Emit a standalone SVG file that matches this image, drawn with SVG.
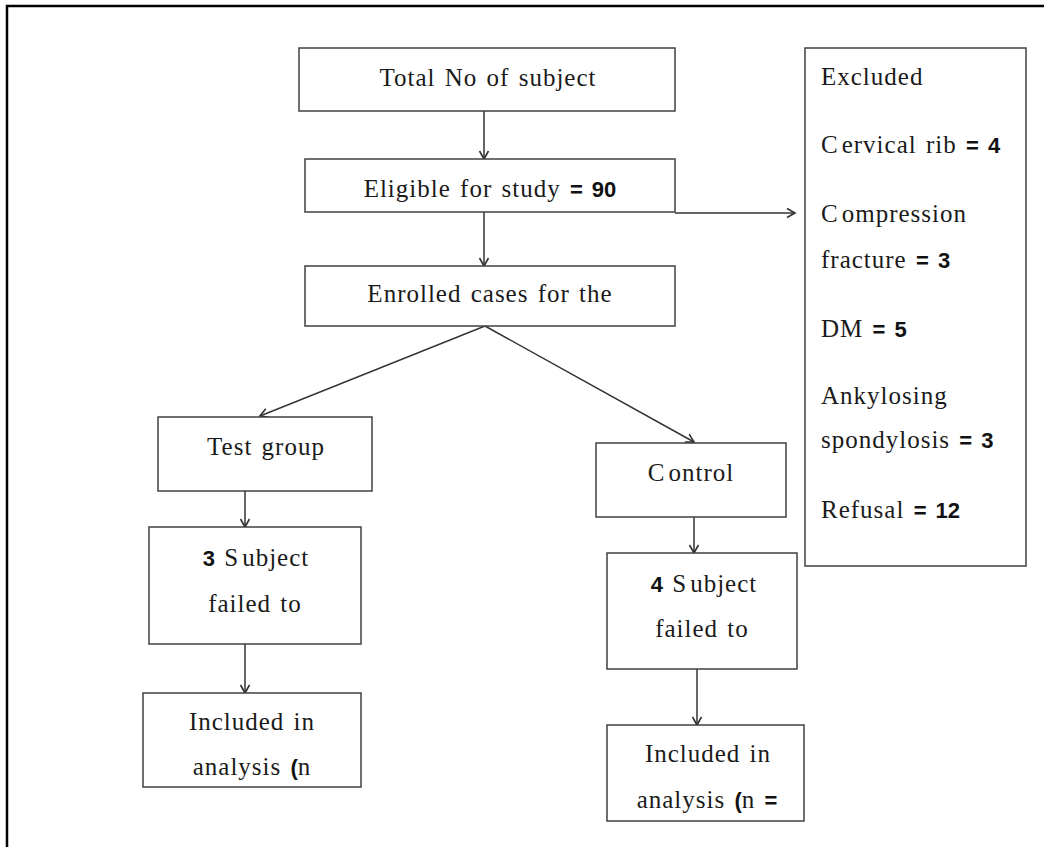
<svg xmlns="http://www.w3.org/2000/svg" width="1044" height="847" viewBox="0 0 1044 847">
<defs>
<style>
.box{fill:#fff;stroke:#404040;stroke-width:1.5}
.t{font-family:"Liberation Serif","Times New Roman",serif;font-size:25px;letter-spacing:1px;word-spacing:2px;fill:#1a1a1a}
.c{text-anchor:middle}
.b{font-family:"Liberation Sans",Arial,sans-serif;font-weight:bold;font-size:22px;letter-spacing:0;word-spacing:3px;fill:#111}
.ln{fill:none;stroke:#333;stroke-width:1.5}
</style>
<marker id="ah" markerUnits="userSpaceOnUse" markerWidth="12" markerHeight="12" refX="9" refY="5" orient="auto" viewBox="0 0 12 10">
<path d="M1,0.5 L9,5 L1,9.5" fill="none" stroke="#333" stroke-width="1.6"/>
</marker>
</defs>
<rect width="1044" height="847" fill="#fff"/>
<path d="M7,847 V6 H1044" fill="none" stroke="#000" stroke-width="2.5"/>

<g id="connectors">
<line class="ln" x1="484" y1="111" x2="484" y2="159" marker-end="url(#ah)"/>
<line class="ln" x1="484" y1="212" x2="484" y2="266" marker-end="url(#ah)"/>
<line class="ln" x1="675" y1="213" x2="795" y2="213" marker-end="url(#ah)"/>
<line class="ln" x1="485" y1="326" x2="260" y2="416" marker-end="url(#ah)"/>
<line class="ln" x1="485" y1="326" x2="694" y2="442" marker-end="url(#ah)"/>
<line class="ln" x1="245" y1="491" x2="245" y2="527" marker-end="url(#ah)"/>
<line class="ln" x1="245" y1="644" x2="245" y2="693" marker-end="url(#ah)"/>
<line class="ln" x1="694" y1="517" x2="694" y2="553" marker-end="url(#ah)"/>
<line class="ln" x1="697" y1="669" x2="697" y2="725" marker-end="url(#ah)"/>
</g>

<g id="total">
<rect class="box" x="299" y="48" width="376" height="63"/>
<text class="t c" x="488" y="86">Total No of subject</text>
</g>

<g id="eligible">
<rect class="box" x="305" y="159" width="370" height="53"/>
<text class="t c" x="490" y="197">Eligible for study <tspan class="b">= 90</tspan></text>
</g>

<g id="enrolled">
<rect class="box" x="305" y="266" width="370" height="60"/>
<text class="t c" x="490" y="302">Enrolled cases for the</text>
</g>

<g id="excluded">
<rect class="box" x="805" y="48" width="221" height="518"/>
<text class="t" x="821" y="85">Excluded</text>
<text class="t" x="821" y="153">C<tspan dx="3">ervical rib </tspan><tspan class="b">= 4</tspan></text>
<text class="t" x="821" y="222">C<tspan dx="3">ompression</tspan></text>
<text class="t" x="821" y="268">fracture <tspan class="b">= 3</tspan></text>
<text class="t" x="821" y="337">DM <tspan class="b">= 5</tspan></text>
<text class="t" x="821" y="404">Ankylosing</text>
<text class="t" x="821" y="448">spondylosis <tspan class="b">= 3</tspan></text>
<text class="t" x="821" y="518">Refusal <tspan class="b">= 12</tspan></text>
</g>

<g id="test-group">
<rect class="box" x="158" y="417" width="214" height="74"/>
<text class="t c" x="266" y="455">Test group</text>
</g>

<g id="test-failed">
<rect class="box" x="149" y="527" width="212" height="117"/>
<text class="t c" x="256" y="566"><tspan class="b">3</tspan> S<tspan dx="3">ubject</tspan></text>
<text class="t c" x="255" y="612">failed to</text>
</g>

<g id="test-included">
<rect class="box" x="143" y="693" width="218" height="94"/>
<text class="t c" x="252" y="730">Included in</text>
<text class="t c" x="252" y="775">analysis <tspan class="b">(</tspan>n</text>
</g>

<g id="control">
<rect class="box" x="596" y="443" width="190" height="74"/>
<text class="t c" x="691" y="481">C<tspan dx="3">ontrol</tspan></text>
</g>

<g id="control-failed">
<rect class="box" x="607" y="553" width="190" height="116"/>
<text class="t c" x="704" y="592"><tspan class="b">4</tspan> S<tspan dx="3">ubject</tspan></text>
<text class="t c" x="702" y="637">failed to</text>
</g>

<g id="control-included">
<rect class="box" x="607" y="725" width="197" height="96"/>
<text class="t c" x="708" y="762">Included in</text>
<text class="t c" x="707" y="808">analysis <tspan class="b">(</tspan>n <tspan class="b">=</tspan></text>
</g>
</svg>
